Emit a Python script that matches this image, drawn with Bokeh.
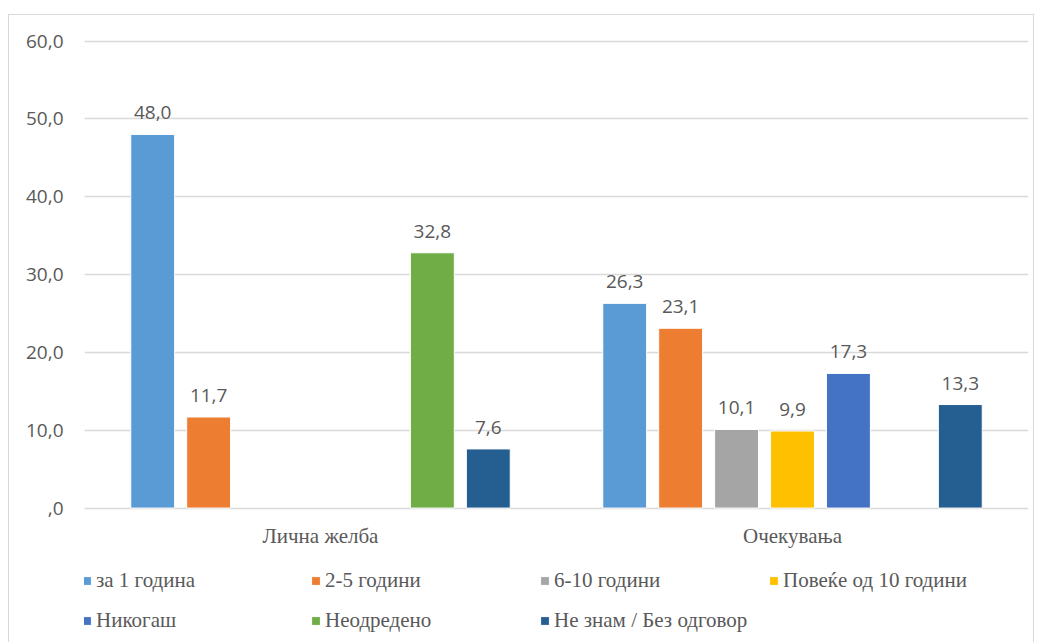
from bokeh.plotting import figure
from bokeh.models import (ColumnDataSource, FactorRange, Legend, LegendItem, FixedTicker, Range1d)
from bokeh.transform import dodge
from bokeh.embed import file_html
from bokeh.resources import INLINE
from bokeh.core.properties import value

categories = ["Лична желба", "Очекувања"]
series = ["за 1 година", "2-5 години", "6-10 години", "Повеќе од 10 години",
          "Никогаш", "Неодредено", "Не знам / Без одговор"]
personal_wish = [48.0, 11.7, None, None, None, 32.8, 7.6]
expectations = [26.3, 23.1, 10.1, 9.9, 17.3, None, 13.3]
colors = ["#5B9BD5", "#ED7D31", "#A5A5A5", "#FFC000", "#4472C4", "#70AD47", "#255E91"]
y_ticks = [0, 10, 20, 30, 40, 50, 60]


def fmt(v):
    s = f"{v:.1f}".replace(".", ",")
    return s[1:] if s.startswith("0,") else s


W, H = 1026, 628
# the frame reaches the bottom of the canvas so that the legend can sit inside it
p = figure(x_range=FactorRange(*categories), y_range=Range1d(-17.4, 60.2),
           width=W, height=H, output_backend="svg", toolbar_location=None,
           min_border_left=75, min_border_right=7, min_border_top=24, min_border_bottom=0)
p.outline_line_color = None
p.background_fill_color = "white"
p.border_fill_color = "white"
p.margin = (14, 0, 0, 8)
p.styles = {"border-top": "1px solid #d9d9d9", "border-left": "1px solid #d9d9d9",
            "border-right": "1px solid #d9d9d9"}

slot = 0.1185
bar_w = 0.093
label_color = "#595959"
items = []
for i, name in enumerate(series):
    cats, vals = [], []
    for c, v in zip(categories, [personal_wish[i], expectations[i]]):
        if v is not None:
            cats.append(c)
            vals.append(v)
    src = ColumnDataSource(dict(cat=cats, val=vals, lab=[fmt(v) for v in vals]))
    off = (i - 3) * slot
    r = p.vbar(x=dodge("cat", off, range=p.x_range), top="val", width=bar_w, source=src,
               fill_color=colors[i], line_color="white", line_width=1)
    p.text(x=dodge("cat", off, range=p.x_range), y="val", text="lab", source=src,
           text_align="center", text_baseline="bottom", y_offset=-15,
           text_font=value("Open Sans"), text_font_size="19px", text_color=label_color)
    items.append(LegendItem(label=name, renderers=[r]))

# category labels under the zero line
cat_src = ColumnDataSource(dict(cat=categories, y=[0] * len(categories)))
p.text(x="cat", y="y", text="cat", source=cat_src, text_align="center",
       text_baseline="middle", y_offset=28, text_font=value("Liberation Serif"),
       text_font_size="21px", text_color=label_color)

# axes
p.xaxis.visible = False
p.yaxis.ticker = FixedTicker(ticks=y_ticks)
p.yaxis.major_label_overrides = {t: fmt(float(t)) for t in y_ticks}
p.yaxis.major_label_text_font = "Open Sans"
p.yaxis.major_label_text_font_size = "19px"
p.yaxis.major_label_text_color = label_color
p.yaxis.major_label_standoff = 15
p.yaxis.axis_line_color = None
p.yaxis.major_tick_line_color = None
p.yaxis.minor_tick_line_color = None

p.xgrid.grid_line_color = None
p.ygrid.grid_line_color = "#d9d9d9"
p.ygrid.grid_line_width = 1.5
p.ygrid.ticker = FixedTicker(ticks=y_ticks)

legend_style = dict(orientation="horizontal", glyph_width=11, glyph_height=11,
                    label_standoff=4, label_width=200, label_height=22, spacing=14,
                    padding=0, margin=0, label_text_font="Liberation Serif",
                    label_text_font_size="21px", label_text_color=label_color,
                    border_line_color=None, background_fill_alpha=0)
legend1 = Legend(items=items[:4], location=(-3, 50), **legend_style)
legend2 = Legend(items=items[4:], location=(-3, 10), **legend_style)
p.add_layout(legend1, "center")
p.add_layout(legend2, "center")

open("out.html", "w").write(file_html(p, INLINE))
